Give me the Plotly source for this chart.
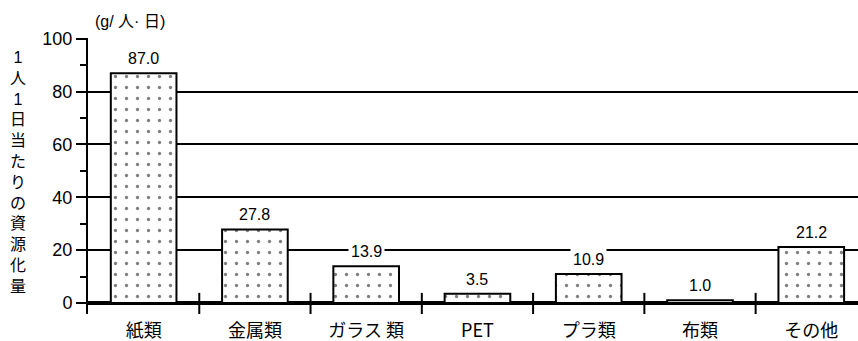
import plotly.graph_objects as go

# Recycled resources per person per day, by material (g/person/day)
categories = ["紙類", "金属類", "ガラス 類", "PET", "プラ類", "布類", "その他"]
values = [87.0, 27.8, 13.9, 3.5, 10.9, 1.0, 21.2]
y_ticks = [0, 20, 40, 60, 80, 100]
y_title = "1人1日当たりの資源化量"
unit_label = "(g/ 人· 日)"

FONT = "Liberation Sans, Arial, Noto Sans CJK JP"
CJK = "Noto Sans CJK JP, Liberation Sans"

idx = list(range(len(categories)))

fig = go.Figure()
fig.add_trace(go.Bar(
    x=idx,
    y=values,
    width=0.59,
    marker=dict(
        color="white",
        line=dict(color="black", width=2),
        pattern=dict(shape=".", fgcolor="black", bgcolor="white",
                     size=11, solidity=0.07, fillmode="overlay"),
    ),
    showlegend=False,
    hoverinfo="skip",
))

# value labels with a white backing so grid lines break around them
annotations = []
for i, v in zip(idx, values):
    annotations.append(dict(
        x=i, y=v, xref="x", yref="y", text=f"{v:.1f}",
        showarrow=False, yanchor="bottom", yshift=3,
        font=dict(family=FONT, size=16, color="black"),
        bgcolor="white", borderpad=2,
    ))

# unit label above the axis
annotations.append(dict(
    x=0.006, y=1.058, xref="paper", yref="paper", text=unit_label,
    showarrow=False, xanchor="left", yanchor="middle",
    font=dict(family=FONT, size=16, color="black"),
))

# vertical (stacked) axis title
annotations.append(dict(
    x=-0.0909, y=0.514, xref="paper", yref="paper",
    text="<br>".join(list(y_title)),
    showarrow=False, xanchor="center", yanchor="middle",
    font=dict(family=FONT, size=16, color="black"),
))

# category separator ticks crossing the base line
shapes = []
for k in range(len(categories) - 1):
    shapes.append(dict(
        type="line", xref="x", yref="y",
        x0=k + 0.5, x1=k + 0.5, y0=-4.2, y1=3.8,
        line=dict(color="black", width=2), layer="above",
    ))

fig.update_layout(
    width=858, height=341,
    margin=dict(l=88, r=0, t=38, b=27),
    paper_bgcolor="white", plot_bgcolor="white",
    bargap=0.41,
    annotations=annotations,
    shapes=shapes,
    xaxis=dict(
        range=[-0.5, 6.42],
        tickmode="array", tickvals=idx, ticktext=categories,
        ticks="", showgrid=False, showline=False, zeroline=False,
        ticklabelstandoff=4, automargin=False,
        tickfont=dict(family=CJK, size=18, color="black"),
        fixedrange=True,
    ),
    yaxis=dict(
        range=[-4.2, 100.3],
        tickmode="array", tickvals=y_ticks,
        ticks="outside", ticklen=10, tickwidth=2, tickcolor="black",
        minor=dict(ticks="outside", ticklen=6, tickwidth=2,
                   tickcolor="black", dtick=10, tick0=0, showgrid=False),
        showline=True, linewidth=2, linecolor="black",
        showgrid=True, gridcolor="black", gridwidth=2,
        zeroline=True, zerolinecolor="black", zerolinewidth=4,
        automargin=False,
        tickfont=dict(family=FONT, size=18, color="black"),
        fixedrange=True,
    ),
)

fig.write_html("out.html")
